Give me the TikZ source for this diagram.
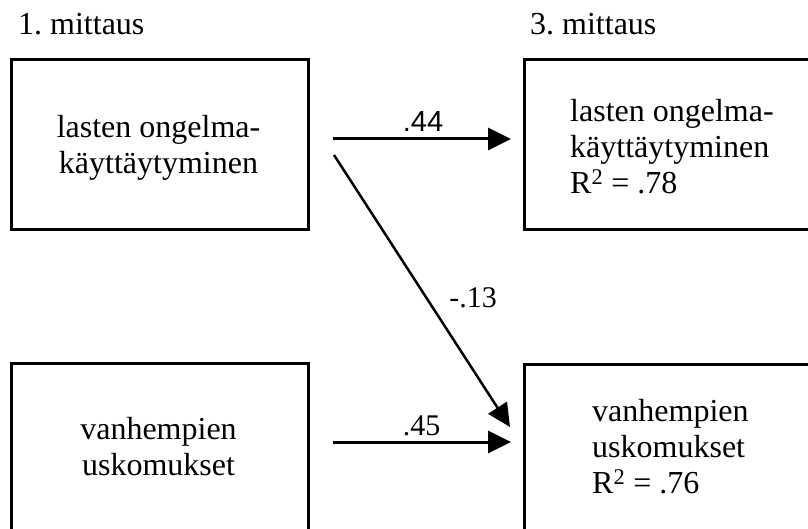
\documentclass[tikz,border=0pt]{standalone}
\usepackage{fontspec}
\setmainfont{Liberation Serif}
\newfontfamily\labelsans{Liberation Sans}
\usetikzlibrary{arrows.meta}
\frenchspacing

\tikzset{
  boxframe/.style={draw, line width=3pt, rectangle, inner sep=0pt, anchor=north west},
  bodytext/.style={inner sep=0pt, font=\fontsize{32}{36}\selectfont},
  heading/.style={inner sep=0pt, anchor=base west, font=\fontsize{32}{36}\selectfont},
  coef/.style={inner sep=0pt, anchor=base, font=\fontsize{30}{34}\selectfont},
  path arrow/.style={line width=3pt, -{Triangle[length=23pt,width=22pt]}},
}

\begin{document}
\begin{tikzpicture}[x=1pt, y=-1pt]
  \useasboundingbox (0,0) rectangle (808,529);
  \clip (0,0) rectangle (808,529);

  % column headings
  \node[heading] (h1) at (18,35) {1. mittaus};
  \node[heading] (h3) at (530,35) {3. mittaus};

  % measurement 1
  \node[boxframe, minimum width=297pt, minimum height=170pt] (lt) at (10,58) {};
  \node[bodytext, align=center] (ltt) at (158.5,148) {lasten ongelma-\\käyttäytyminen};
  \node[boxframe, minimum width=297pt, minimum height=170pt] (lb) at (10,362) {};
  \node[bodytext, align=center] (lbt) at (158.5,447) {vanhempien\\uskomukset};

  % measurement 3
  \node[boxframe, minimum width=320pt, minimum height=170pt] (rt) at (523,58) {};
  \node[bodytext, align=left, anchor=west] (rtt) at (570,147) {lasten ongelma-\\käyttäytyminen\\R\textsuperscript{2} = .78};
  \node[boxframe, minimum width=320pt, minimum height=170pt] (rb) at (523,363) {};
  \node[bodytext, align=left, anchor=west] (rbt) at (592,447) {vanhempien\\uskomukset\\R\textsuperscript{2} = .76};

  % path end points
  \coordinate (a1s) at (333,139);
  \coordinate (a1e) at (511,139);
  \coordinate (a2s) at (334,155);
  \coordinate (a2e) at (510,427);
  \coordinate (a3s) at (333,442);
  \coordinate (a3e) at (511,442);

  % paths
  \draw[path arrow] (a1s) -- (a1e);
  \draw[path arrow, line width=2.5pt] (a2s) -- (a2e);
  \draw[path arrow] (a3s) -- (a3e);

  % path coefficients
  \node[coef, font=\labelsans\fontsize{29}{34}\selectfont] (c1) at (423,132) {.44};
  \node[coef] (c2) at (473,307) {-.13};
  \node[coef] (c3) at (421.5,435) {.45};
\end{tikzpicture}
\end{document}
